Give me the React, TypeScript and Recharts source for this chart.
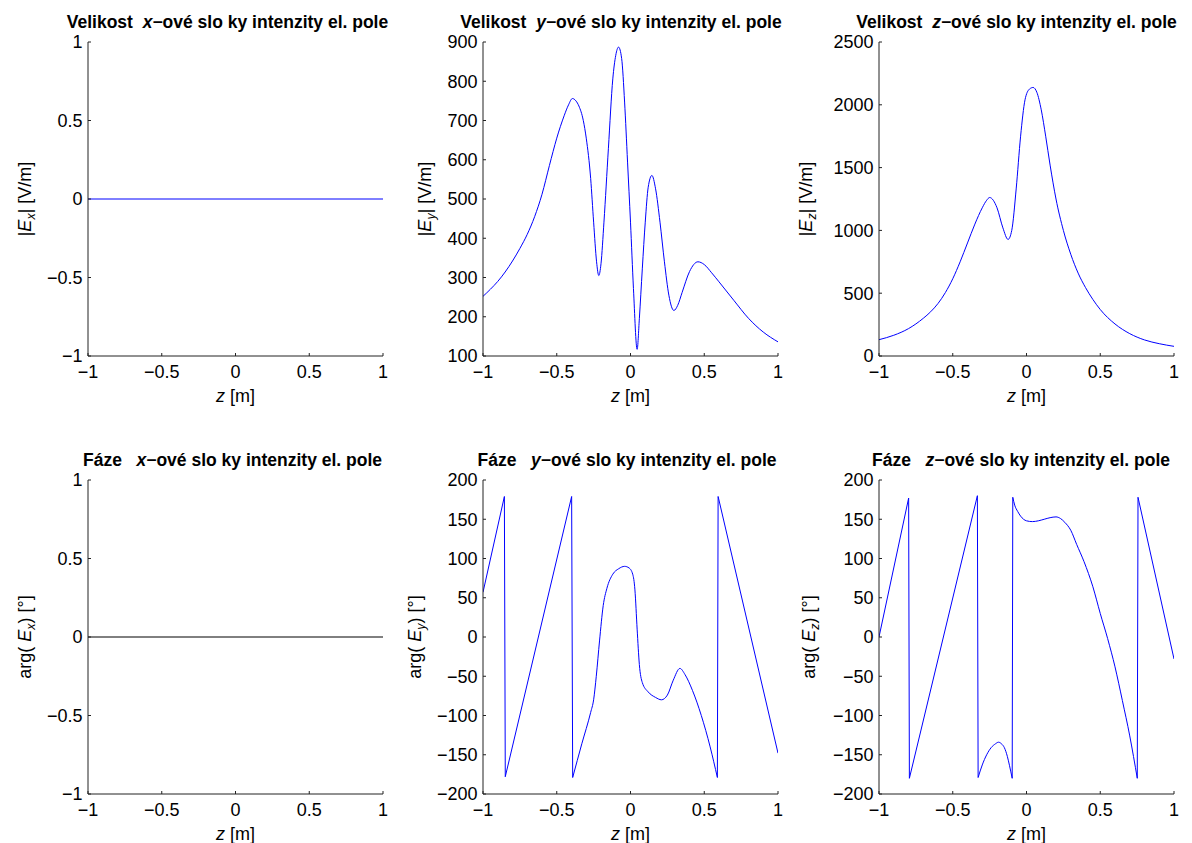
import React from 'react';
import { LineChart, Line, XAxis, YAxis, Label } from 'recharts';

const FONT = '"Liberation Sans", Arial, Helvetica, sans-serif';
const AXIS = '#222222';
const BLUE = '#0000ff';

// ---- tick labels ----
const zTicks = [-1, -0.5, 0, 0.5, 1];
const unitTicks = [-1, -0.5, 0, 0.5, 1];
const eyMagTicks = [100, 200, 300, 400, 500, 600, 700, 800, 900];
const ezMagTicks = [0, 500, 1000, 1500, 2000, 2500];
const phaseTicks = [-200, -150, -100, -50, 0, 50, 100, 150, 200];

// ---- |Ex| ----
const exMagZ = [-1, 1];
const exMagV = [0, 0];

// ---- |Ey| ----
const eyMagZ = [-1, -0.95, -0.9, -0.85, -0.8, -0.75, -0.7, -0.65, -0.6, -0.55, -0.5, -0.45, -0.42, -0.394, -0.37, -0.35, -0.32, -0.3, -0.27, -0.25, -0.23, -0.215, -0.2, -0.18, -0.15, -0.12, -0.1, -0.081, -0.06, -0.04, -0.02, 0, 0.02, 0.045, 0.06, 0.08, 0.1, 0.12, 0.145, 0.17, 0.2, 0.23, 0.26, 0.294, 0.32, 0.35, 0.4, 0.457, 0.5, 0.55, 0.6, 0.7, 0.8, 0.9, 1.0];
const eyMagV = [252, 270, 290, 314, 342, 374, 410, 455, 512, 585, 655, 712, 740, 756, 750, 737, 700, 655, 552, 441, 340, 305, 335, 441, 628, 806, 866, 887, 858, 747, 594, 441, 272, 117, 195, 322, 441, 530, 560, 526, 441, 340, 255, 216, 229, 262, 315, 340, 333, 312, 289, 242, 196, 161, 136];

// ---- |Ez| ----
const ezMagZ = [-1, -0.9, -0.8, -0.7, -0.65, -0.6, -0.55, -0.5, -0.45, -0.4, -0.35, -0.3, -0.27, -0.25, -0.2, -0.16, -0.125, -0.1, -0.07, -0.04, -0.01, 0.02, 0.045, 0.07, 0.1, 0.13, 0.16, 0.2, 0.25, 0.3, 0.35, 0.4, 0.45, 0.5, 0.6, 0.7, 0.8, 0.9, 1.0];
const ezMagV = [130, 165, 218, 300, 352, 418, 505, 615, 750, 900, 1050, 1180, 1240, 1262, 1180, 1020, 928, 1000, 1330, 1750, 2040, 2125, 2138, 2100, 1960, 1750, 1520, 1250, 1000, 810, 660, 545, 450, 370, 255, 178, 128, 98, 77];

// ---- arg(Ex) ----
const exPhZ = [-1, 1];
const exPhV = [0, 0];

// ---- arg(Ey): straight wrapped parts and the smooth middle part ----
const eyPhAZ = [-1, -0.855, -0.849, -0.399, -0.392];
const eyPhAV = [57, 179, -178, 179, -179];
const eyPhBZ = [-0.392, -0.33, -0.27, -0.25, -0.232, -0.21, -0.185, -0.16, -0.12, -0.08, -0.04, -0.01, 0.015, 0.03, 0.045, 0.06, 0.08, 0.12, 0.17, 0.21, 0.25, 0.29, 0.335, 0.37, 0.42, 0.48, 0.54, 0.589];
const eyPhBV = [-179, -136, -96, -80, -50, -5, 40, 62, 80, 87, 90, 88, 80, 60, 10, -35, -58, -70, -77, -80, -74, -55, -40, -48, -68, -100, -140, -179];
const eyPhCZ = [0.589, 0.594, 1.0];
const eyPhCV = [-179, 179, -148];

// ---- arg(Ez) ----
const ezPhAZ = [-1, -0.799, -0.794, -0.333, -0.328];
const ezPhAV = [0, 177, -180, 180, -179];
const ezPhBZ = [-0.328, -0.3, -0.27, -0.24, -0.21, -0.19, -0.17, -0.15, -0.13, -0.115, -0.097];
const ezPhBV = [-179, -163, -150, -141, -136, -134, -136, -141, -152, -164, -180];
const ezPhCZ = [-0.097, -0.093];
const ezPhCV = [-180, 178];
const ezPhDZ = [-0.093, -0.08, -0.06, -0.04, -0.02, 0, 0.04, 0.08, 0.12, 0.16, 0.2, 0.23, 0.26, 0.3, 0.34, 0.39, 0.45, 0.5, 0.55, 0.6, 0.65, 0.7, 0.751];
const ezPhDV = [178, 168, 160, 154, 150, 148, 147, 148, 150, 152, 153, 151, 146, 136, 118, 96, 64, 30, -2, -38, -81, -126, -180];
const ezPhEZ = [0.751, 0.756, 1.0];
const ezPhEV = [-180, 178, -28];

type Pt = { z: number; v: number };
const zip = (zs: number[], vs: number[]): Pt[] => zs.map((z, i) => ({ z, v: vs[i] }));

const fmt = (v: number) => (v < 0 ? '\u2212' + String(Math.abs(v)) : String(v));

const TICK_FS = 18;

const renderXTick = (props: any) => {
  const { x, y, payload } = props;
  return (
    <g>
      <line x1={x} y1={y} x2={x} y2={y - 3} stroke={AXIS} strokeWidth={1} />
      <text x={x} y={y + 22} textAnchor="middle" fontFamily={FONT} fontSize={TICK_FS} fill="#000">
        {fmt(payload.value)}
      </text>
    </g>
  );
};

const renderYTick = (props: any) => {
  const { x, y, payload } = props;
  return (
    <g>
      <line x1={x} y1={y} x2={x + 3} y2={y} stroke={AXIS} strokeWidth={1} />
      <text x={x - 5.5} y={y + 6.3} textAnchor="end" fontFamily={FONT} fontSize={TICK_FS} fill="#000">
        {fmt(payload.value)}
      </text>
    </g>
  );
};

const renderXLabel = (props: any) => {
  const vb = props.viewBox || { x: 100, y: 354, width: 295, height: 60 };
  return (
    <text x={vb.x + vb.width / 2} y={vb.y + 46} textAnchor="middle" fontFamily={FONT} fontSize={TICK_FS} fill="#000">
      <tspan fontStyle="italic">z</tspan>
      <tspan>{'\u00A0[m]'}</tspan>
    </text>
  );
};

const makeYLabel = (kind: 'mag' | 'arg', comp: string, off: number) => (props: any) => {
  const vb = props.viewBox || { x: 0, y: 40, width: 100, height: 314 };
  const cx = vb.x + vb.width - off;
  const cy = vb.y + vb.height / 2;
  return (
    <text transform={`translate(${cx},${cy}) rotate(-90)`} textAnchor="middle" fontFamily={FONT} fontSize={TICK_FS} fill="#000">
      {kind === 'mag' ? (
        <>
          <tspan>|</tspan>
          <tspan fontStyle="italic">E</tspan>
          <tspan fontStyle="italic" fontSize={12.5} dy={4}>{comp}</tspan>
          <tspan dy={-4}>{'|\u00A0[V/m]'}</tspan>
        </>
      ) : (
        <>
          <tspan>{'arg(\u00A0'}</tspan>
          <tspan fontStyle="italic">E</tspan>
          <tspan fontStyle="italic" fontSize={12.5} dy={4}>{comp}</tspan>
          <tspan dy={-4}>{')\u00A0[°]'}</tspan>
        </>
      )}
    </text>
  );
};

type Seg = { data: Pt[]; curve: 'linear' | 'monotone' };

type PanelProps = {
  left: number;
  top: number;
  segs: Seg[];
  domain: [number, number];
  ticks: number[];
  color: string;
  yLabel: (p: any) => React.ReactElement;
};

const PLOT_W = 295;
const PLOT_H = 314;
const ML = 100;
const MT = 40;

function Panel({ left, top, segs, domain, ticks, color, yLabel }: PanelProps) {
  return (
    <div style={{ position: 'absolute', left: left - ML, top: top - MT }}>
      <LineChart width={ML + PLOT_W + 10} height={MT + PLOT_H + 60} margin={{ top: MT, right: 10, bottom: 0, left: 0 }}>
        <XAxis
          dataKey="z"
          type="number"
          domain={[-1, 1]}
          ticks={zTicks}
          interval={0}
          tickSize={0}
          tickMargin={0}
          tickLine={false}
          tick={renderXTick}
          axisLine={{ stroke: AXIS, strokeWidth: 1 }}
          height={60}
          allowDataOverflow
        >
          <Label content={renderXLabel} />
        </XAxis>
        <YAxis
          type="number"
          domain={domain}
          ticks={ticks}
          interval={0}
          tickSize={0}
          tickMargin={0}
          tickLine={false}
          tick={renderYTick}
          axisLine={{ stroke: AXIS, strokeWidth: 1 }}
          width={ML}
          allowDataOverflow
        >
          <Label content={yLabel} />
        </YAxis>
        {segs.map((s, i) => (
          <Line key={i} data={s.data} dataKey="v" type={s.curve} stroke={color} strokeWidth={1} dot={false} activeDot={false} isAnimationActive={false} />
        ))}
      </LineChart>
    </div>
  );
}

const colLeft = [88, 483, 879];
const rowTop = [42, 480];

const titlesTop = [
  { cx: 227.5, comp: 'x' },
  { cx: 621, comp: 'y' },
  { cx: 1016.5, comp: 'z' },
];
const titlesBottom = [
  { cx: 232.5, comp: 'x' },
  { cx: 627, comp: 'y' },
  { cx: 1021, comp: 'z' },
];

export default function App() {
  return (
    <div style={{ position: 'absolute', left: 0, top: 0, width: 1192, height: 843, overflow: 'hidden', background: '#fff' }}>
      <Panel left={colLeft[0]} top={rowTop[0]} segs={[{ data: zip(exMagZ, exMagV), curve: 'linear' }]} domain={[-1, 1]} ticks={unitTicks} color={BLUE} yLabel={makeYLabel('mag', 'x', 57)} />
      <Panel left={colLeft[1]} top={rowTop[0]} segs={[{ data: zip(eyMagZ, eyMagV), curve: 'monotone' }]} domain={[100, 900]} ticks={eyMagTicks} color={BLUE} yLabel={makeYLabel('mag', 'y', 52)} />
      <Panel left={colLeft[2]} top={rowTop[0]} segs={[{ data: zip(ezMagZ, ezMagV), curve: 'monotone' }]} domain={[0, 2500]} ticks={ezMagTicks} color={BLUE} yLabel={makeYLabel('mag', 'z', 67)} />
      <Panel left={colLeft[0]} top={rowTop[1]} segs={[{ data: zip(exPhZ, exPhV), curve: 'linear' }]} domain={[-1, 1]} ticks={unitTicks} color="#000000" yLabel={makeYLabel('arg', 'x', 57)} />
      <Panel
        left={colLeft[1]}
        top={rowTop[1]}
        segs={[
          { data: zip(eyPhAZ, eyPhAV), curve: 'linear' },
          { data: zip(eyPhBZ, eyPhBV), curve: 'monotone' },
          { data: zip(eyPhCZ, eyPhCV), curve: 'linear' },
        ]}
        domain={[-200, 200]}
        ticks={phaseTicks}
        color={BLUE}
        yLabel={makeYLabel('arg', 'y', 62)}
      />
      <Panel
        left={colLeft[2]}
        top={rowTop[1]}
        segs={[
          { data: zip(ezPhAZ, ezPhAV), curve: 'linear' },
          { data: zip(ezPhBZ, ezPhBV), curve: 'monotone' },
          { data: zip(ezPhCZ, ezPhCV), curve: 'linear' },
          { data: zip(ezPhDZ, ezPhDV), curve: 'monotone' },
          { data: zip(ezPhEZ, ezPhEV), curve: 'linear' },
        ]}
        domain={[-200, 200]}
        ticks={phaseTicks}
        color={BLUE}
        yLabel={makeYLabel('arg', 'z', 64)}
      />
      <svg width={1192} height={843} style={{ position: 'absolute', left: 0, top: 0, pointerEvents: 'none' }}>
        {titlesTop.map((t) => (
          <text key={'t' + t.comp} x={t.cx} y={28} textAnchor="middle" fontFamily={FONT} fontSize={17.5} fontWeight="bold" fill="#000">
            <tspan>{'Velikost\u00A0\u00A0'}</tspan>
            <tspan fontStyle="italic">{t.comp}</tspan>
            <tspan>{'\u2212ové slo ky intenzity el. pole'}</tspan>
          </text>
        ))}
        {titlesBottom.map((t) => (
          <text key={'b' + t.comp} x={t.cx} y={466} textAnchor="middle" fontFamily={FONT} fontSize={17.5} fontWeight="bold" fill="#000">
            <tspan>{'Fáze\u00A0\u00A0\u00A0'}</tspan>
            <tspan fontStyle="italic">{t.comp}</tspan>
            <tspan>{'\u2212ové slo ky intenzity el. pole'}</tspan>
          </text>
        ))}
      </svg>
    </div>
  );
}
